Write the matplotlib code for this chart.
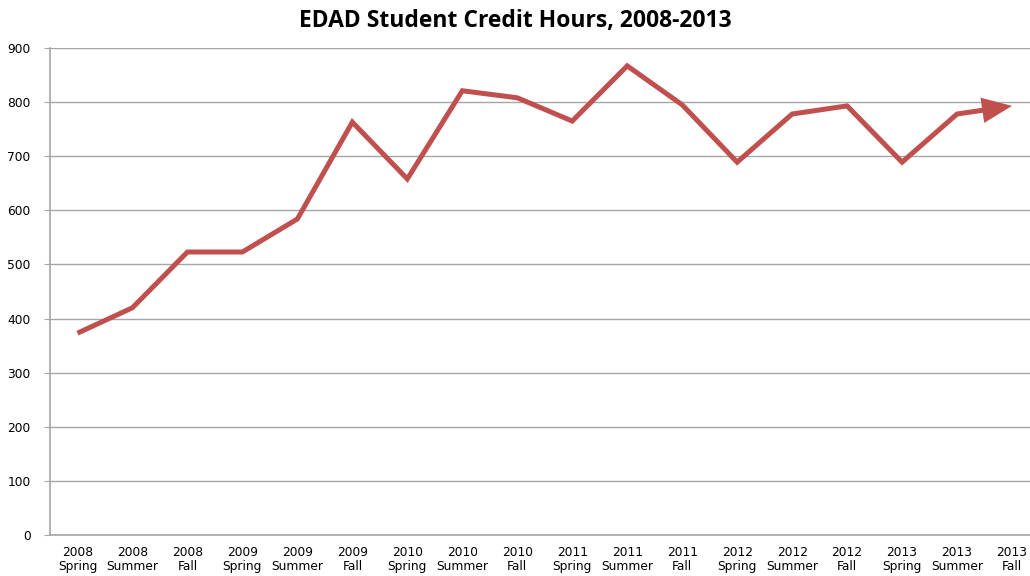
import numpy as np
import matplotlib.pyplot as plt

# semesters and credit hours
years = ['2008', '2008', '2008', '2009', '2009', '2009', '2010', '2010', '2010',
         '2011', '2011', '2011', '2012', '2012', '2012', '2013', '2013', '2013']
terms = ['Spring', 'Summer', 'Fall'] * 6
hours = [373, 420, 523, 523, 584, 763, 658, 821, 808,
         765, 867, 795, 689, 778, 793, 689, 778, 793]

red = '#C0504D'
grid = '#A6A6A6'

fig = plt.figure(figsize=(10.30, 5.76), dpi=100)
ax = fig.add_axes([50/1030, 41/576, 989.5/1030, 487/576])

x = np.arange(len(hours))
# line stops under the arrow head, head is a filled triangle on the last point
xe = x[-2] + 0.55
ye = hours[-2] + 0.55 * (hours[-1] - hours[-2])
ax.plot(list(x[:-1]) + [xe], hours[:-1] + [ye], color=red, lw=3.6,
        solid_joinstyle='miter', solid_capstyle='butt', zorder=3)
ax.annotate('', xy=(x[-1], hours[-1]), xytext=(x[-2], hours[-2]),
            arrowprops=dict(arrowstyle='-|>,head_length=0.4,head_width=0.17',
                            mutation_scale=54, color=red, lw=0,
                            shrinkA=0, shrinkB=0),
            zorder=3)

ax.set_xlim(-0.5, len(hours) - 0.5)
ax.set_ylim(0, 900)
ax.set_yticks(range(0, 901, 100))
ax.set_xticks(x)
ax.set_xticklabels([y + '\n' + t for y, t in zip(years, terms)],
                   fontsize=8.8, family='DejaVu Sans', linespacing=1.05)
ax.tick_params(axis='x', length=0, pad=8)
ax.tick_params(axis='y', length=4, color=grid, labelsize=8.8, pad=10)
ax.grid(axis='y', color=grid, lw=1)
ax.set_axisbelow(True)
for s in ['top', 'right']:
    ax.spines[s].set_visible(False)
for s in ['left', 'bottom']:
    ax.spines[s].set_color(grid)
    ax.spines[s].set_linewidth(1.2)

fig.text(0.5, 0.963, 'EDAD Student Credit Hours, 2008-2013', ha='center',
         va='center', fontsize=16.5, fontweight='bold', family='Open Sans')

fig.savefig('out.png', dpi=100)
